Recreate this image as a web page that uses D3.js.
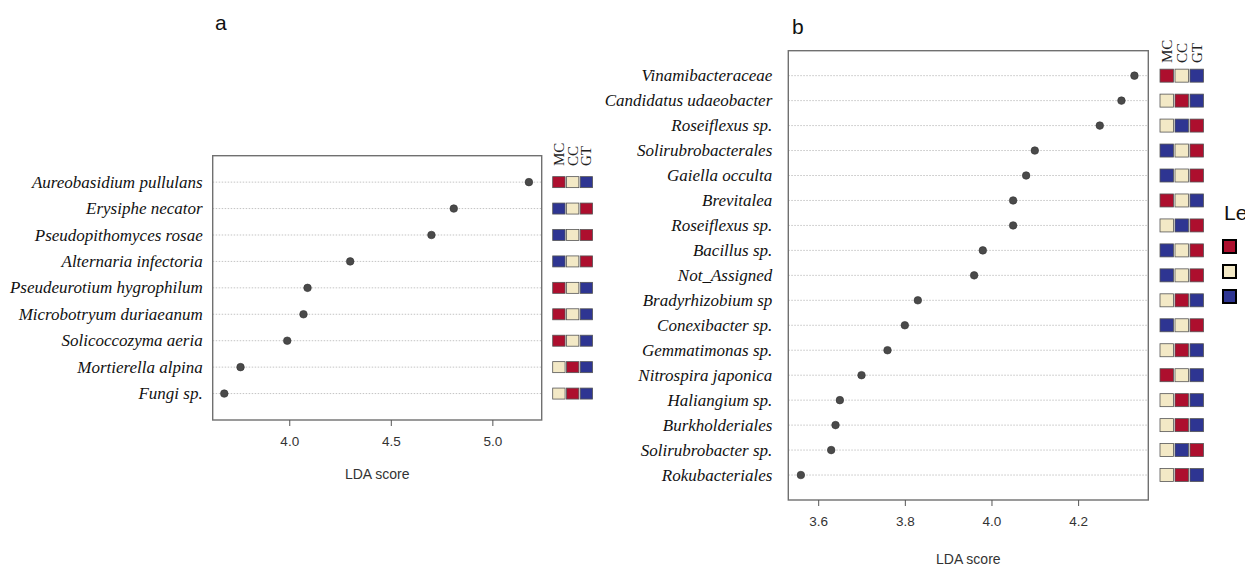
<!DOCTYPE html>
<meta charset="utf-8">
<style>
    body { margin: 0; background: #fff; }
    .lab { font-family: "Liberation Serif", "Times New Roman", serif; font-style: italic; font-size: 17px; fill: #111; }
    .hdr { font-family: "Liberation Serif", serif; font-size: 15px; fill: #222; }
    .tick text { font-family: "Liberation Sans", Arial, sans-serif; font-size: 13.5px; fill: #333; }
    .xt { font-family: "Liberation Sans", Arial, sans-serif; font-size: 14px; fill: #333; }
    .ttl { font-family: "Liberation Sans", Arial, sans-serif; font-size: 21px; fill: #111; }
</style>
<script src="https://d3js.org/d3.v7.min.js"></script>
<div id="chart"></div>
<script>
// panel a (fungi)
const taxaA = ["Aureobasidium pullulans", "Erysiphe necator", "Pseudopithomyces rosae", "Alternaria infectoria",
    "Pseudeurotium hygrophilum", "Microbotryum duriaeanum", "Solicoccozyma aeria", "Mortierella alpina", "Fungi sp."];
const ldaA = [5.18, 4.81, 4.70, 4.30, 4.09, 4.07, 3.99, 3.76, 3.68];
// relative level per group: H = high, M = mid, L = low  (order MC, CC, GT)
const levelsA = ["HML", "LMH", "LMH", "LMH", "HML", "HML", "HML", "MHL", "MHL"];
const ticksA = [4.0, 4.5, 5.0];

// panel b (bacteria)
const taxaB = ["Vinamibacteraceae", "Candidatus udaeobacter", "Roseiflexus sp.", "Solirubrobacterales", "Gaiella occulta",
    "Brevitalea", "Roseiflexus sp. ", "Bacillus sp.", "Not_Assigned", "Bradyrhizobium sp", "Conexibacter sp.",
    "Gemmatimonas sp.", "Nitrospira japonica", "Haliangium sp.", "Burkholderiales", "Solirubrobacter sp.", "Rokubacteriales"];
const ldaB = [4.33, 4.30, 4.25, 4.10, 4.08, 4.05, 4.05, 3.98, 3.96, 3.83, 3.80, 3.76, 3.70, 3.65, 3.64, 3.63, 3.56];
const levelsB = ["HML", "MHL", "MLH", "LMH", "LMH", "HML", "MLH", "LMH", "LMH", "MHL", "LMH",
    "MHL", "HML", "MHL", "MHL", "MLH", "MHL"];
const ticksB = [3.6, 3.8, 4.0, 4.2];

const groups = ["MC", "CC", "GT"];
const levelColor = {H: "#AD0F2E", M: "#F3E9C6", L: "#2E3592"};

const svg = d3.select("#chart").append("svg")
    .attr("width", 1245).attr("height", 566);

function panel(o) {
    const g = svg.append("g");
    const x = d3.scaleLinear().domain(o.domain).range([o.left, o.right]);
    const y = d3.scalePoint().domain(o.taxa).range([o.top, o.bottom]).padding(1);

    // dotted guide lines
    g.selectAll(".grid").data(o.taxa).join("line")
        .attr("x1", o.left).attr("x2", o.right)
        .attr("y1", d => y(d)).attr("y2", d => y(d))
        .attr("stroke", "#c4c4c4").attr("stroke-width", 1)
        .attr("stroke-dasharray", "1.5,1.5");

    // frame
    g.append("rect")
        .attr("x", o.left).attr("y", o.top)
        .attr("width", o.right - o.left).attr("height", o.bottom - o.top)
        .attr("fill", "none").attr("stroke", "#707070").attr("stroke-width", 1.4);

    // x axis
    const ax = g.append("g")
        .attr("transform", `translate(0,${o.bottom})`)
        .call(d3.axisBottom(x).tickValues(o.ticks).tickFormat(d3.format(".1f")).tickSize(6).tickPadding(10));
    ax.select(".domain").remove();
    ax.selectAll(".tick line").attr("stroke", "#555");

    g.append("text").attr("class", "xt")
        .attr("x", (o.left + o.right) / 2).attr("y", o.bottom + o.xlabOff)
        .attr("text-anchor", "middle").text("LDA score");

    // species labels
    g.selectAll(".lab").data(o.taxa).join("text")
        .attr("class", "lab")
        .attr("x", o.left - o.labGap).attr("y", d => y(d))
        .attr("dy", "0.33em").attr("text-anchor", "end")
        .text(d => d.trim());

    // points
    g.selectAll(".pt").data(o.taxa).join("circle")
        .attr("cx", (d, i) => x(o.lda[i])).attr("cy", d => y(d))
        .attr("r", 3.8).attr("fill", "#4a4a4a").attr("stroke", "#333").attr("stroke-width", 0.6);

    // heat squares
    const hx = d3.scaleBand().domain(groups)
        .range([o.right + o.hgap, o.right + o.hgap + 3 * o.hstep]).paddingInner(0.1).paddingOuter(0);
    o.taxa.forEach((t, i) => {
        g.selectAll(null).data(groups).join("rect")
            .attr("x", d => hx(d)).attr("y", y(t) - o.hsize / 2)
            .attr("width", hx.bandwidth()).attr("height", o.hsize)
            .attr("fill", (d, j) => levelColor[o.levels[i][j]])
            .attr("stroke", "#555").attr("stroke-width", 0.8);
    });
    g.selectAll(".hdr").data(groups).join("text")
        .attr("class", "hdr")
        .attr("transform", d => `translate(${hx(d) + hx.bandwidth() / 2 + 5},${o.hdrY}) rotate(-90)`)
        .text(d => d);

    g.append("text").attr("class", "ttl")
        .attr("x", o.titleX).attr("y", o.titleY).text(o.title);
}

panel({title: "a", titleX: 215, titleY: 30, taxa: taxaA, lda: ldaA, levels: levelsA, ticks: ticksA,
    domain: [3.623, 5.243], left: 212.7, right: 541.7, top: 155.7, bottom: 420, xlabOff: 59, labGap: 10,
    hgap: 11, hstep: 13.3, hsize: 11, hdrY: 166});
panel({title: "b", titleX: 792, titleY: 34, taxa: taxaB, lda: ldaB, levels: levelsB, ticks: ticksB,
    domain: [3.531, 4.362], left: 788.3, right: 1148.3, top: 50.7, bottom: 500, xlabOff: 64, labGap: 16,
    hgap: 11.7, hstep: 14.5, hsize: 13, hdrY: 63});

// legend, cut by the page edge as in the figure
const legend = svg.append("g");
legend.append("text").attr("class", "ttl").attr("x", 1224).attr("y", 220).text("Legend");
legend.selectAll("rect").data(["H", "M", "L"]).join("rect")
    .attr("x", 1223).attr("y", (d, i) => 240 + i * 25)
    .attr("width", 13).attr("height", 13)
    .attr("fill", d => levelColor[d]).attr("stroke", "#000").attr("stroke-width", 2);
</script>
